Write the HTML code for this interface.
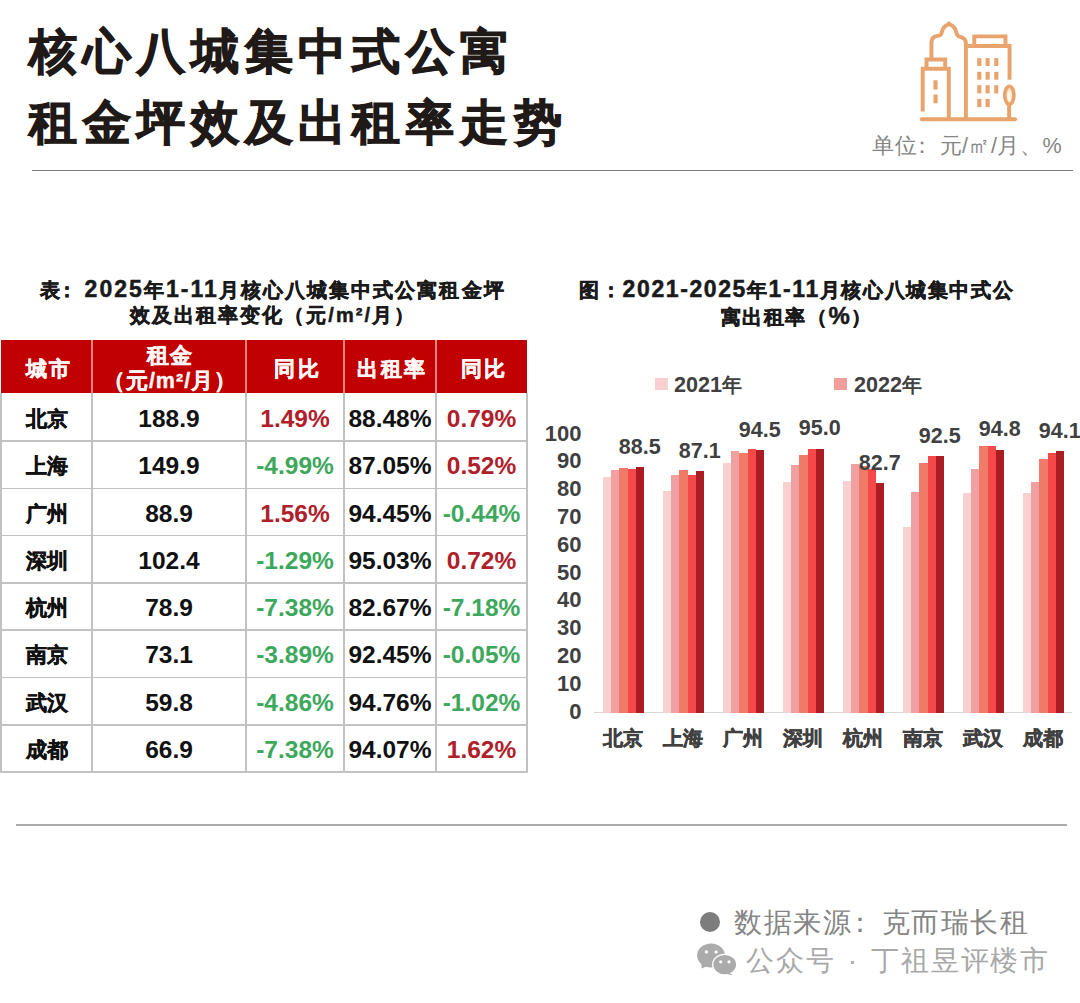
<!DOCTYPE html>
<html><head><meta charset="utf-8"><style>
*{margin:0;padding:0;box-sizing:border-box}
html,body{width:1080px;height:1003px;overflow:hidden;background:#fff}
body{position:relative;font-family:"Liberation Sans", sans-serif;text-spacing-trim:space-all}
.a{position:absolute;white-space:nowrap}
.b{font-weight:900}
</style></head>
<body>
<div class="a" style="left:29px;top:15.5px;font-size:48px;font-weight:700;line-height:71px;letter-spacing:5.9px;color:#1f1a17;-webkit-text-stroke:1.1px #1f1a17">核心八城集中式公寓<br>租金坪效及出租率走势</div>
<div class="a" style="left:872px;top:132.5px;font-size:21.5px;line-height:26px;letter-spacing:0.5px;color:#858585">单位<span style="position:relative;left:-6px">：</span>元/㎡/月、%</div>
<div class="a" style="left:32px;top:169.5px;width:1041px;height:1.5px;background:#7a7a7a"></div>
<div class="a" style="left:16px;top:824px;width:1051px;height:2px;background:#ababab"></div>
<svg class="a" style="left:915px;top:15px" width="105" height="110" viewBox="0 0 957 1003">
<g fill="none" stroke="#e9a46e" stroke-width="36" stroke-linejoin="miter">
<path d="M62 950 H912" stroke-linecap="round"/>
<path d="M70 880 V490 H308 V950"/>
<path d="M105 490 V405 H275 V490"/>
<path d="M150 400 V250 C150 215 165 200 195 193 C218 189 236 185 240 170 C248 128 272 95 310 84 C348 95 372 128 380 170 C384 185 402 198 425 204 C450 212 464 230 464 262 V950"/><circle cx="310" cy="72" r="16" fill="#e9a46e" stroke="none"/>
<path d="M464 282 H862 V590"/>
<path d="M540 270 V195 H825 V270"/>
<path d="M858 815 V950"/>
</g>
<ellipse cx="860" cy="732" rx="42" ry="82" fill="#fde3c8" stroke="#e9a46e" stroke-width="32"/>
<path d="M860 680 C835 720 835 775 860 790 C885 775 885 720 860 680 Z" fill="#fff6ea"/>
<g fill="#e9a46e">
<rect x="168" y="595" width="38" height="85"/><rect x="168" y="725" width="38" height="80"/>
<rect x="567" y="393" width="38" height="72"/><rect x="643" y="393" width="38" height="72"/><rect x="722" y="393" width="38" height="72"/>
<rect x="567" y="518" width="38" height="72"/><rect x="643" y="518" width="38" height="72"/><rect x="722" y="518" width="38" height="72"/>
<rect x="567" y="640" width="38" height="75"/><rect x="643" y="640" width="38" height="75"/><rect x="722" y="640" width="38" height="75"/>
<rect x="567" y="765" width="38" height="75"/><rect x="643" y="765" width="38" height="75"/>
</g>
</svg>
<div class="a b" style="left:8px;width:528px;top:277px;text-align:center;font-size:20px;line-height:25px;letter-spacing:2.05px;padding-left:2.05px;color:#1a1a1a;-webkit-text-stroke:0.5px #1a1a1a">表<span style="position:relative;left:-5px">：</span><span style="font-size:1.15em">2025</span>年<span style="font-size:1.15em">1-11</span>月核心八城集中式公寓租金坪<br>效及出租率变化（元/m²/月）</div>
<div class="a" style="left:1px;top:340px;width:526px;height:53px;background:#c10101"></div>
<div class="a" style="left:91.25px;top:340px;width:1.5px;height:53px;background:#f08080"></div>
<div class="a" style="left:245.25px;top:340px;width:1.5px;height:53px;background:#f08080"></div>
<div class="a" style="left:343.25px;top:340px;width:1.5px;height:53px;background:#f08080"></div>
<div class="a" style="left:435.25px;top:340px;width:1.5px;height:53px;background:#f08080"></div>
<div class="a" style="left:0.19999999999999996px;top:393px;width:1.6px;height:379.90000000000003px;background:#c2c2c2"></div>
<div class="a" style="left:91.2px;top:393px;width:1.6px;height:379.90000000000003px;background:#c2c2c2"></div>
<div class="a" style="left:245.2px;top:393px;width:1.6px;height:379.90000000000003px;background:#c2c2c2"></div>
<div class="a" style="left:343.2px;top:393px;width:1.6px;height:379.90000000000003px;background:#c2c2c2"></div>
<div class="a" style="left:435.2px;top:393px;width:1.6px;height:379.90000000000003px;background:#c2c2c2"></div>
<div class="a" style="left:526.2px;top:393px;width:1.6px;height:379.90000000000003px;background:#c2c2c2"></div>
<div class="a" style="left:0.19999999999999996px;top:440.2px;width:527.6px;height:1.6px;background:#c2c2c2"></div>
<div class="a" style="left:0.19999999999999996px;top:487.5px;width:527.6px;height:1.6px;background:#c2c2c2"></div>
<div class="a" style="left:0.19999999999999996px;top:534.8px;width:527.6px;height:1.6px;background:#c2c2c2"></div>
<div class="a" style="left:0.19999999999999996px;top:582.1px;width:527.6px;height:1.6px;background:#c2c2c2"></div>
<div class="a" style="left:0.19999999999999996px;top:629.4px;width:527.6px;height:1.6px;background:#c2c2c2"></div>
<div class="a" style="left:0.19999999999999996px;top:676.7px;width:527.6px;height:1.6px;background:#c2c2c2"></div>
<div class="a" style="left:0.19999999999999996px;top:724.0px;width:527.6px;height:1.6px;background:#c2c2c2"></div>
<div class="a" style="left:0.19999999999999996px;top:771.3px;width:527.6px;height:1.6px;background:#c2c2c2"></div>
<div class="a b" style="left:3.5px;width:91px;top:353.5px;text-align:center;font-size:21px;line-height:30px;letter-spacing:2.5px;color:#fff6f6;-webkit-text-stroke:0.5px #fff6f6">城市</div>
<div class="a b" style="left:93px;width:154px;top:344px;text-align:center;font-size:21.5px;line-height:24.5px;letter-spacing:1px;color:#fff6f6;-webkit-text-stroke:0.5px #fff6f6">租金</div>
<div class="a b" style="left:93px;width:154px;top:368.5px;text-align:center;font-size:21.5px;line-height:24.5px;letter-spacing:1px;color:#fff6f6;-webkit-text-stroke:0.4px #fff6f6">（元/m²/月）</div>
<div class="a b" style="left:248.5px;width:98px;top:353.5px;text-align:center;font-size:21px;line-height:30px;letter-spacing:2.5px;color:#fff6f6;-webkit-text-stroke:0.5px #fff6f6">同比</div>
<div class="a b" style="left:346.5px;width:92px;top:353.5px;text-align:center;font-size:21px;line-height:30px;letter-spacing:2.5px;color:#fff6f6;-webkit-text-stroke:0.5px #fff6f6">出租率</div>
<div class="a b" style="left:438.5px;width:91px;top:353.5px;text-align:center;font-size:21px;line-height:30px;letter-spacing:2.5px;color:#fff6f6;-webkit-text-stroke:0.5px #fff6f6">同比</div>
<div class="a b" style="left:1px;width:91px;top:403.5px;text-align:center;font-size:20.5px;line-height:30px;color:#111;-webkit-text-stroke:0.5px #111">北京</div>
<div class="a b" style="left:92px;width:154px;top:403.5px;text-align:center;font-size:24.5px;line-height:30px;color:#111">188.9</div>
<div class="a b" style="left:246px;width:98px;top:403.5px;text-align:center;font-size:24.5px;line-height:30px;color:#b0202a">1.49%</div>
<div class="a b" style="left:344px;width:92px;top:403.5px;text-align:center;font-size:24.5px;line-height:30px;color:#111">88.48%</div>
<div class="a b" style="left:436px;width:91px;top:403.5px;text-align:center;font-size:24.5px;line-height:30px;color:#b0202a">0.79%</div>
<div class="a b" style="left:1px;width:91px;top:451.1px;text-align:center;font-size:20.5px;line-height:30px;color:#111;-webkit-text-stroke:0.5px #111">上海</div>
<div class="a b" style="left:92px;width:154px;top:451.1px;text-align:center;font-size:24.5px;line-height:30px;color:#111">149.9</div>
<div class="a b" style="left:246px;width:98px;top:451.1px;text-align:center;font-size:24.5px;line-height:30px;color:#3da85c">-4.99%</div>
<div class="a b" style="left:344px;width:92px;top:451.1px;text-align:center;font-size:24.5px;line-height:30px;color:#111">87.05%</div>
<div class="a b" style="left:436px;width:91px;top:451.1px;text-align:center;font-size:24.5px;line-height:30px;color:#b0202a">0.52%</div>
<div class="a b" style="left:1px;width:91px;top:498.5px;text-align:center;font-size:20.5px;line-height:30px;color:#111;-webkit-text-stroke:0.5px #111">广州</div>
<div class="a b" style="left:92px;width:154px;top:498.5px;text-align:center;font-size:24.5px;line-height:30px;color:#111">88.9</div>
<div class="a b" style="left:246px;width:98px;top:498.5px;text-align:center;font-size:24.5px;line-height:30px;color:#b0202a">1.56%</div>
<div class="a b" style="left:344px;width:92px;top:498.5px;text-align:center;font-size:24.5px;line-height:30px;color:#111">94.45%</div>
<div class="a b" style="left:436px;width:91px;top:498.5px;text-align:center;font-size:24.5px;line-height:30px;color:#3da85c">-0.44%</div>
<div class="a b" style="left:1px;width:91px;top:545.8px;text-align:center;font-size:20.5px;line-height:30px;color:#111;-webkit-text-stroke:0.5px #111">深圳</div>
<div class="a b" style="left:92px;width:154px;top:545.8px;text-align:center;font-size:24.5px;line-height:30px;color:#111">102.4</div>
<div class="a b" style="left:246px;width:98px;top:545.8px;text-align:center;font-size:24.5px;line-height:30px;color:#3da85c">-1.29%</div>
<div class="a b" style="left:344px;width:92px;top:545.8px;text-align:center;font-size:24.5px;line-height:30px;color:#111">95.03%</div>
<div class="a b" style="left:436px;width:91px;top:545.8px;text-align:center;font-size:24.5px;line-height:30px;color:#b0202a">0.72%</div>
<div class="a b" style="left:1px;width:91px;top:593.0px;text-align:center;font-size:20.5px;line-height:30px;color:#111;-webkit-text-stroke:0.5px #111">杭州</div>
<div class="a b" style="left:92px;width:154px;top:593.0px;text-align:center;font-size:24.5px;line-height:30px;color:#111">78.9</div>
<div class="a b" style="left:246px;width:98px;top:593.0px;text-align:center;font-size:24.5px;line-height:30px;color:#3da85c">-7.38%</div>
<div class="a b" style="left:344px;width:92px;top:593.0px;text-align:center;font-size:24.5px;line-height:30px;color:#111">82.67%</div>
<div class="a b" style="left:436px;width:91px;top:593.0px;text-align:center;font-size:24.5px;line-height:30px;color:#3da85c">-7.18%</div>
<div class="a b" style="left:1px;width:91px;top:640.4px;text-align:center;font-size:20.5px;line-height:30px;color:#111;-webkit-text-stroke:0.5px #111">南京</div>
<div class="a b" style="left:92px;width:154px;top:640.4px;text-align:center;font-size:24.5px;line-height:30px;color:#111">73.1</div>
<div class="a b" style="left:246px;width:98px;top:640.4px;text-align:center;font-size:24.5px;line-height:30px;color:#3da85c">-3.89%</div>
<div class="a b" style="left:344px;width:92px;top:640.4px;text-align:center;font-size:24.5px;line-height:30px;color:#111">92.45%</div>
<div class="a b" style="left:436px;width:91px;top:640.4px;text-align:center;font-size:24.5px;line-height:30px;color:#3da85c">-0.05%</div>
<div class="a b" style="left:1px;width:91px;top:687.6px;text-align:center;font-size:20.5px;line-height:30px;color:#111;-webkit-text-stroke:0.5px #111">武汉</div>
<div class="a b" style="left:92px;width:154px;top:687.6px;text-align:center;font-size:24.5px;line-height:30px;color:#111">59.8</div>
<div class="a b" style="left:246px;width:98px;top:687.6px;text-align:center;font-size:24.5px;line-height:30px;color:#3da85c">-4.86%</div>
<div class="a b" style="left:344px;width:92px;top:687.6px;text-align:center;font-size:24.5px;line-height:30px;color:#111">94.76%</div>
<div class="a b" style="left:436px;width:91px;top:687.6px;text-align:center;font-size:24.5px;line-height:30px;color:#3da85c">-1.02%</div>
<div class="a b" style="left:1px;width:91px;top:734.9px;text-align:center;font-size:20.5px;line-height:30px;color:#111;-webkit-text-stroke:0.5px #111">成都</div>
<div class="a b" style="left:92px;width:154px;top:734.9px;text-align:center;font-size:24.5px;line-height:30px;color:#111">66.9</div>
<div class="a b" style="left:246px;width:98px;top:734.9px;text-align:center;font-size:24.5px;line-height:30px;color:#3da85c">-7.38%</div>
<div class="a b" style="left:344px;width:92px;top:734.9px;text-align:center;font-size:24.5px;line-height:30px;color:#111">94.07%</div>
<div class="a b" style="left:436px;width:91px;top:734.9px;text-align:center;font-size:24.5px;line-height:30px;color:#b0202a">1.62%</div>
<div class="a b" style="left:560px;width:472px;top:277px;text-align:center;font-size:20px;line-height:25px;letter-spacing:1.6px;padding-left:1.6px;color:#1a1a1a;-webkit-text-stroke:0.5px #1a1a1a">图：<span style="font-size:1.15em">2021-2025</span>年<span style="font-size:1.15em">1-11</span>月核心八城集中式公<br>寓出租率（<span style="font-size:1.2em">%</span>）</div>
<div class="a" style="left:655px;top:378px;width:13px;height:12px;background:#f9cfcf"></div>
<div class="a b" style="left:674px;top:370px;font-size:20px;line-height:30px;color:#404040"><span style="font-size:1.08em">2021</span>年</div>
<div class="a" style="left:834px;top:378px;width:13px;height:12px;background:#ef9e9c"></div>
<div class="a b" style="left:854px;top:370px;font-size:20px;line-height:30px;color:#404040"><span style="font-size:1.08em">2022</span>年</div>
<div class="a b" style="left:501.5px;width:80px;top:696.5px;text-align:right;font-size:22px;line-height:30px;color:#404040">0</div>
<div class="a b" style="left:501.5px;width:80px;top:668.7px;text-align:right;font-size:22px;line-height:30px;color:#404040">10</div>
<div class="a b" style="left:501.5px;width:80px;top:640.9px;text-align:right;font-size:22px;line-height:30px;color:#404040">20</div>
<div class="a b" style="left:501.5px;width:80px;top:613.1px;text-align:right;font-size:22px;line-height:30px;color:#404040">30</div>
<div class="a b" style="left:501.5px;width:80px;top:585.3px;text-align:right;font-size:22px;line-height:30px;color:#404040">40</div>
<div class="a b" style="left:501.5px;width:80px;top:557.5px;text-align:right;font-size:22px;line-height:30px;color:#404040">50</div>
<div class="a b" style="left:501.5px;width:80px;top:529.7px;text-align:right;font-size:22px;line-height:30px;color:#404040">60</div>
<div class="a b" style="left:501.5px;width:80px;top:501.9px;text-align:right;font-size:22px;line-height:30px;color:#404040">70</div>
<div class="a b" style="left:501.5px;width:80px;top:474.1px;text-align:right;font-size:22px;line-height:30px;color:#404040">80</div>
<div class="a b" style="left:501.5px;width:80px;top:446.3px;text-align:right;font-size:22px;line-height:30px;color:#404040">90</div>
<div class="a b" style="left:501.5px;width:80px;top:418.5px;text-align:right;font-size:22px;line-height:30px;color:#404040">100</div>
<div class="a" style="left:594px;top:712px;width:478px;height:1.2px;background:#d6d6d6"></div>
<div class="a" style="left:602.90px;top:477.26px;width:8.25px;height:235.74px;background:#f9d0d0"></div>
<div class="a" style="left:611.10px;top:470.03px;width:8.25px;height:242.97px;background:#f0a0a0"></div>
<div class="a" style="left:619.30px;top:467.80px;width:8.25px;height:245.20px;background:#f07a68"></div>
<div class="a" style="left:627.50px;top:468.92px;width:8.25px;height:244.08px;background:#f64848"></div>
<div class="a" style="left:635.70px;top:467.03px;width:8.25px;height:245.97px;background:#ab1c23"></div>
<div class="a b" style="left:599.8px;width:80px;top:431.5px;text-align:center;font-size:21.5px;line-height:30px;color:#404040">88.5</div>
<div class="a b" style="left:583.4px;width:80px;top:722.5px;text-align:center;font-size:19.5px;line-height:30px;color:#404040;-webkit-text-stroke:0.5px #404040">北京</div>
<div class="a" style="left:662.90px;top:490.60px;width:8.25px;height:222.40px;background:#f9d0d0"></div>
<div class="a" style="left:671.10px;top:475.03px;width:8.25px;height:237.97px;background:#f0a0a0"></div>
<div class="a" style="left:679.30px;top:469.75px;width:8.25px;height:243.25px;background:#f07a68"></div>
<div class="a" style="left:687.50px;top:475.03px;width:8.25px;height:237.97px;background:#f64848"></div>
<div class="a" style="left:695.70px;top:471.00px;width:8.25px;height:242.00px;background:#ab1c23"></div>
<div class="a b" style="left:659.8px;width:80px;top:435.5px;text-align:center;font-size:21.5px;line-height:30px;color:#404040">87.1</div>
<div class="a b" style="left:643.4px;width:80px;top:722.5px;text-align:center;font-size:19.5px;line-height:30px;color:#404040;-webkit-text-stroke:0.5px #404040">上海</div>
<div class="a" style="left:722.90px;top:462.80px;width:8.25px;height:250.20px;background:#f9d0d0"></div>
<div class="a" style="left:731.10px;top:450.85px;width:8.25px;height:262.15px;background:#f0a0a0"></div>
<div class="a" style="left:739.30px;top:452.79px;width:8.25px;height:260.21px;background:#f07a68"></div>
<div class="a" style="left:747.50px;top:448.90px;width:8.25px;height:264.10px;background:#f64848"></div>
<div class="a" style="left:755.70px;top:450.43px;width:8.25px;height:262.57px;background:#ab1c23"></div>
<div class="a b" style="left:719.8px;width:80px;top:414.9px;text-align:center;font-size:21.5px;line-height:30px;color:#404040">94.5</div>
<div class="a b" style="left:703.4px;width:80px;top:722.5px;text-align:center;font-size:19.5px;line-height:30px;color:#404040;-webkit-text-stroke:0.5px #404040">广州</div>
<div class="a" style="left:782.90px;top:481.70px;width:8.25px;height:231.30px;background:#f9d0d0"></div>
<div class="a" style="left:791.10px;top:465.02px;width:8.25px;height:247.98px;background:#f0a0a0"></div>
<div class="a" style="left:799.30px;top:455.02px;width:8.25px;height:257.98px;background:#f07a68"></div>
<div class="a" style="left:807.50px;top:448.90px;width:8.25px;height:264.10px;background:#f64848"></div>
<div class="a" style="left:815.70px;top:448.82px;width:8.25px;height:264.18px;background:#ab1c23"></div>
<div class="a b" style="left:779.8px;width:80px;top:413.3px;text-align:center;font-size:21.5px;line-height:30px;color:#404040">95.0</div>
<div class="a b" style="left:763.4px;width:80px;top:722.5px;text-align:center;font-size:19.5px;line-height:30px;color:#404040;-webkit-text-stroke:0.5px #404040">深圳</div>
<div class="a" style="left:842.90px;top:480.59px;width:8.25px;height:232.41px;background:#f9d0d0"></div>
<div class="a" style="left:851.10px;top:463.91px;width:8.25px;height:249.09px;background:#f0a0a0"></div>
<div class="a" style="left:859.30px;top:465.58px;width:8.25px;height:247.42px;background:#f07a68"></div>
<div class="a" style="left:867.50px;top:469.19px;width:8.25px;height:243.81px;background:#f64848"></div>
<div class="a" style="left:875.70px;top:483.18px;width:8.25px;height:229.82px;background:#ab1c23"></div>
<div class="a b" style="left:839.8px;width:80px;top:447.7px;text-align:center;font-size:21.5px;line-height:30px;color:#404040">82.7</div>
<div class="a b" style="left:823.4px;width:80px;top:722.5px;text-align:center;font-size:19.5px;line-height:30px;color:#404040;-webkit-text-stroke:0.5px #404040">杭州</div>
<div class="a" style="left:902.90px;top:527.02px;width:8.25px;height:185.98px;background:#f9d0d0"></div>
<div class="a" style="left:911.10px;top:492.27px;width:8.25px;height:220.73px;background:#f0a0a0"></div>
<div class="a" style="left:919.30px;top:463.08px;width:8.25px;height:249.92px;background:#f07a68"></div>
<div class="a" style="left:927.50px;top:456.13px;width:8.25px;height:256.87px;background:#f64848"></div>
<div class="a" style="left:935.70px;top:455.99px;width:8.25px;height:257.01px;background:#ab1c23"></div>
<div class="a b" style="left:899.8px;width:80px;top:420.5px;text-align:center;font-size:21.5px;line-height:30px;color:#404040">92.5</div>
<div class="a b" style="left:883.4px;width:80px;top:722.5px;text-align:center;font-size:19.5px;line-height:30px;color:#404040;-webkit-text-stroke:0.5px #404040">南京</div>
<div class="a" style="left:962.90px;top:493.38px;width:8.25px;height:219.62px;background:#f9d0d0"></div>
<div class="a" style="left:971.10px;top:468.92px;width:8.25px;height:244.08px;background:#f0a0a0"></div>
<div class="a" style="left:979.30px;top:446.12px;width:8.25px;height:266.88px;background:#f07a68"></div>
<div class="a" style="left:987.50px;top:446.12px;width:8.25px;height:266.88px;background:#f64848"></div>
<div class="a" style="left:995.70px;top:449.57px;width:8.25px;height:263.43px;background:#ab1c23"></div>
<div class="a b" style="left:959.8px;width:80px;top:414.1px;text-align:center;font-size:21.5px;line-height:30px;color:#404040">94.8</div>
<div class="a b" style="left:943.4px;width:80px;top:722.5px;text-align:center;font-size:19.5px;line-height:30px;color:#404040;-webkit-text-stroke:0.5px #404040">武汉</div>
<div class="a" style="left:1022.90px;top:492.82px;width:8.25px;height:220.18px;background:#f9d0d0"></div>
<div class="a" style="left:1031.10px;top:481.98px;width:8.25px;height:231.02px;background:#f0a0a0"></div>
<div class="a" style="left:1039.30px;top:458.91px;width:8.25px;height:254.09px;background:#f07a68"></div>
<div class="a" style="left:1047.50px;top:453.35px;width:8.25px;height:259.65px;background:#f64848"></div>
<div class="a" style="left:1055.70px;top:451.49px;width:8.25px;height:261.51px;background:#ab1c23"></div>
<div class="a b" style="left:1019.8px;width:80px;top:416.0px;text-align:center;font-size:21.5px;line-height:30px;color:#404040">94.1</div>
<div class="a b" style="left:1003.4px;width:80px;top:722.5px;text-align:center;font-size:19.5px;line-height:30px;color:#404040;-webkit-text-stroke:0.5px #404040">成都</div>
<div class="a" style="left:699.5px;top:912px;width:20px;height:20px;border-radius:50%;background:#7d7d7d"></div>
<div class="a" style="left:734px;top:904.5px;font-size:28px;line-height:36px;letter-spacing:1.5px;color:#858585">数据来源<span style="position:relative;left:-6px">：</span>克而瑞长租</div>
<svg class="a" style="left:692px;top:938px" width="50" height="42" viewBox="0 0 50 42">
<ellipse cx="19" cy="17.6" rx="13.9" ry="12" fill="#ababab"/>
<path d="M9 24 L9.8 30.6 L16.5 27.5 Z" fill="#ababab"/>
<circle cx="14.4" cy="13.9" r="1.7" fill="#fff"/><circle cx="24.1" cy="13.9" r="1.7" fill="#fff"/>
<path d="M36 33 L40.6 37.3 L33.5 35.5 Z" fill="#ababab"/>
<ellipse cx="32.7" cy="26.6" rx="12" ry="10.3" fill="#ababab" stroke="#fff" stroke-width="1.3"/>
<path d="M36.5 34 L40.6 37.3 L34 35.8 Z" fill="#ababab"/>
<circle cx="28.7" cy="23.8" r="1.6" fill="#fff"/><circle cx="37" cy="23.8" r="1.6" fill="#fff"/>
</svg>
<div class="a" style="left:746px;top:942.5px;font-size:28px;line-height:36px;letter-spacing:1.75px;word-spacing:3px;color:#a8a8a8">公众号 · 丁祖昱评楼市</div>
</body></html>
